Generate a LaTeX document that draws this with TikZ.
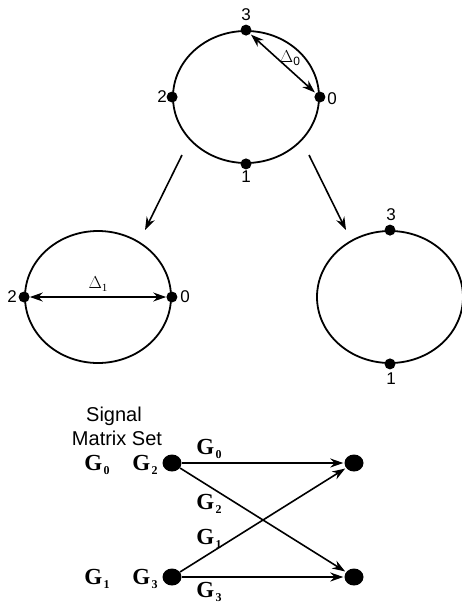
\documentclass[tikz,border=0pt]{standalone}
\usepackage{fontspec}
\setmainfont{Liberation Sans}
\newfontfamily\serifG{Liberation Serif}
\usetikzlibrary{shapes.geometric,arrows.meta}
\newcommand\Gsub[1]{{\serifG\bfseries\fontsize{23}{23}\selectfont G}\hspace{1.5pt}\raisebox{-4pt}{\serifG\bfseries\fontsize{12}{12}\selectfont #1}}
\begin{document}
\begin{tikzpicture}[x=1pt,y=-1pt,
  ring/.style={draw, ellipse, line width=1.8pt, minimum width=146pt, minimum height=132pt, inner sep=0pt},
  dot/.style={fill, circle, inner sep=0pt, minimum size=11pt},
  bigdot/.style={fill, ellipse, inner sep=0pt, minimum width=19pt, minimum height=17pt},
  num/.style={font=\fontsize{17}{17}\selectfont},
  arr/.style={line width=1.6pt, -{Stealth[length=13pt,width=9pt]}},
  darr/.style={line width=1.6pt, {Stealth[length=13pt,width=9pt]}-{Stealth[length=13pt,width=9pt]}},
  glab/.style={inner sep=0pt}]
\useasboundingbox (0,0) rectangle (462,603);

% top ring
\node[ring] (top) at (246,97) {};
\node[dot] (t3) at (top.north) {};
\node[dot] (t0) at (top.east) {};
\node[dot] (t2) at (top.west) {};
\node[dot] (t1) at (top.south) {};
\node[num] at (246,15) {3};
\node[num] at (332,99) {0};
\node[num] at (162,97) {2};
\node[num] at (246,177) {1};
\draw[darr, shorten <=1pt, shorten >=1pt] (t3) -- (t0);
\node[font=\fontsize{16}{16}\selectfont] at (290,58) {$\Delta$\raisebox{-3pt}{\fontsize{12}{12}\selectfont 0}};

% arrows to lower rings
\coordinate (l1) at (182,155);
\coordinate (l2) at (145,230);
\coordinate (r1) at (309,155);
\coordinate (r2) at (346,230);
\draw[arr] (l1) -- (l2);
\draw[arr] (r1) -- (r2);

% left ring
\node[ring] (left) at (98,297) {};
\node[dot] (l2d) at (left.west) {};
\node[dot] (l0d) at (left.east) {};
\node[num] at (12,297) {2};
\node[num] at (185,297) {0};
\draw[darr] (l2d) -- (l0d);
\node[font=\serifG\fontsize{16}{16}\selectfont] at (98,284) {$\Delta$\raisebox{-3pt}{\fontsize{11}{11}\selectfont 1}};

% right ring
\node[ring] (right) at (390,297) {};
\node[dot] (r3d) at (right.north) {};
\node[dot] (r1d) at (right.south) {};
\node[num] at (391,215) {3};
\node[num] at (391,379) {1};

% signal matrix set
\node[font=\fontsize{20}{20}\selectfont] at (114,416) {Signal};
\node[font=\fontsize{20}{20}\selectfont] at (117,438) {Matrix Set};

\node[bigdot] (a) at (172,463) {};
\node[bigdot] (b) at (172,577) {};
\node[bigdot] (c) at (354,463) {};
\node[bigdot] (d) at (354,577) {};
\node[glab] at (97,465) {\Gsub{0}};
\node[glab] at (145,465) {\Gsub{2}};
\node[glab] at (97,579) {\Gsub{1}};
\node[glab] at (145,579) {\Gsub{3}};

\draw[arr, shorten >=1pt] (a) -- (c);
\draw[arr, shorten >=1pt] (a) -- (d);
\draw[arr, shorten >=1pt] (b) -- (c);
\draw[arr, shorten >=1pt] (b) -- (d);

\node[glab] at (209,449) {\Gsub{0}};
\node[glab] at (209,504) {\Gsub{2}};
\node[glab] at (209,539) {\Gsub{1}};
\node[glab] at (209,592) {\Gsub{3}};
\end{tikzpicture}
\end{document}
